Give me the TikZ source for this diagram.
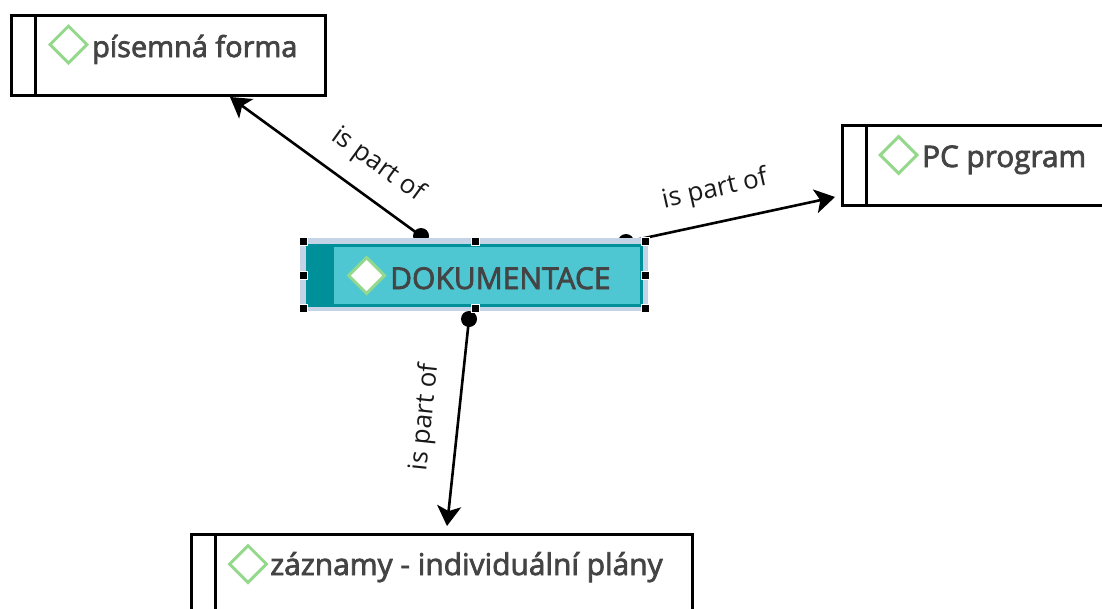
\documentclass[tikz,border=0pt]{standalone}
\usepackage{fontspec}
\setmainfont{Open Sans}
\newfontfamily\semib{Open Sans}
\newcommand{\heavy}[1]{\special{pdf:code 2 Tr 0.75 w}#1\special{pdf:code 0 Tr 0 w}}
\usetikzlibrary{arrows.meta,shapes.geometric}
\definecolor{txtgrey}{HTML}{444444}
\definecolor{diagreen}{HTML}{94D88C}
\definecolor{selblue}{HTML}{C5D3E6}
\definecolor{tealfill}{HTML}{4EC7D2}
\definecolor{tealdark}{HTML}{00909A}
\tikzset{
  x=1pt,y=-1pt,
  topicbox/.style={draw=black,line width=3pt,fill=white,rectangle,inner sep=0pt,outer sep=0pt,anchor=north west},
  dia/.style={diamond,draw=diagreen,line width=3pt,fill=white,aspect=1,minimum width=38pt,minimum height=38pt,inner sep=0pt},
  topictext/.style={anchor=base west,inner sep=0pt,text=txtgrey,font=\semib\fontsize{28.9}{30}\selectfont},
  dotnode/.style={circle,fill=black,minimum size=16pt,inner sep=0pt},
  handle/.style={rectangle,fill=black,draw=white,line width=0.8pt,minimum size=8pt,inner sep=0pt},
  rel/.style={line width=2.6pt,draw=black,-{Stealth[length=20pt,width=24pt,inset=5pt]}},
  rellabel/.style={inner sep=0pt,text=black!90,font=\fontsize{26}{28}\selectfont},
}
\begin{document}
\begin{tikzpicture}
\useasboundingbox (0,0) rectangle (1102,608);
\clip (0,0) rectangle (1102,608);
% topic boxes
\node[topicbox,minimum width=314pt,minimum height=80pt] (boxA) at (11,15) {};
\draw[line width=3pt] (35,15) -- (35,95);
\node[dia] (diaA) at (68.5,44.5) {};
\node[topictext] (txtA) at (92,57) {\heavy{písemná forma}};
\node[topicbox,minimum width=280pt,minimum height=80pt] (boxB) at (842,125) {};
\draw[line width=3pt] (866,125) -- (866,205);
\node[dia] (diaB) at (898.5,155) {};
\node[topictext,font=\semib\fontsize{29.7}{30}\selectfont] (txtB) at (922,167) {\heavy{PC program}};
\node[topicbox,minimum width=501pt,minimum height=120pt] (boxC) at (191,534) {};
\draw[line width=3pt] (215,534) -- (215,640);
\node[dia] (diaC) at (248,564) {};
\node[topictext,font=\semib\fontsize{29.9}{30}\selectfont] (txtC) at (270,575) {\heavy{záznamy - individuální plány}};
% connector ends
\node[dotnode] (dotA) at (421,236) {};
\node[dotnode] (dotB) at (626,242) {};
\node[dotnode] (dotC) at (469,319) {};
\coordinate (tipA) at (230,97);
\coordinate (tipB) at (835,197);
\coordinate (tipC) at (447,526);
\draw[rel] (dotA.center) -- (tipA);
\draw[rel] (dotB.center) -- (tipB);
\draw[rel] (dotC.center) -- (tipC);
\node[rellabel,rotate=-36] (labA) at (378,165) {is part of};
\node[rellabel,rotate=12.5] (labB) at (715,190) {is part of};
\node[rellabel,rotate=84] (labC) at (425,417) {is part of};
% selected central topic
\node[rectangle,fill=selblue,inner sep=0pt,outer sep=0pt,anchor=north west,minimum width=348pt,minimum height=73pt] (sel) at (300,238) {};
\node[rectangle,draw=tealdark,line width=3pt,fill=tealfill,inner sep=0pt,outer sep=0pt,anchor=north west,minimum width=334pt,minimum height=60pt] (main) at (307,245.5) {};
\fill[tealdark] (307,245.5) rectangle (334,305.5);
\node[dia,minimum width=37pt,minimum height=37pt] (diaM) at (366.5,275.5) {};
\node[topictext,font=\semib\fontsize{30}{30}\selectfont] (txtM) at (390,289) {\heavy{DOKUMENTACE}};
% handles
\node[handle] (h1) at (303,241) {};
\node[handle] (h2) at (475,241) {};
\node[handle] (h3) at (645,241) {};
\node[handle] (h4) at (303,275) {};
\node[handle] (h5) at (645,275) {};
\node[handle] (h6) at (303,308) {};
\node[handle] (h7) at (475,308) {};
\node[handle] (h8) at (645,308) {};
\end{tikzpicture}
\end{document}
